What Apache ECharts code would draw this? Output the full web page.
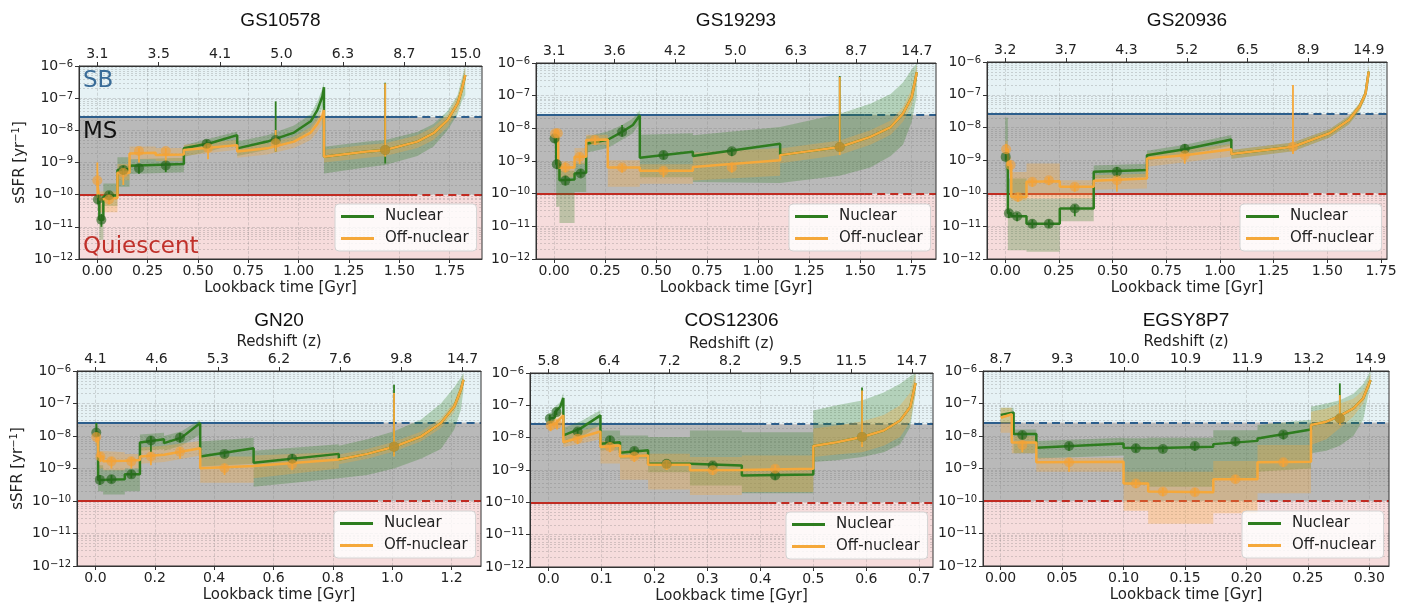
<!DOCTYPE html>
<html>
<head>
<meta charset="utf-8">
<title>sSFR histories</title>
<script src="https://cdn.jsdelivr.net/npm/echarts@6/dist/echarts.min.js"></script>
<style>
  html, body { margin: 0; padding: 0; background: #fff; }
  #chart { width: 1411px; height: 606px; }
</style>
</head>
<body>
<div id="chart"></div>
<script>
// Values. y values are log10(sSFR / yr^-1).
// Line rows: [lookback time (Gyr), median, band low, band high]
// Point rows: [lookback time (Gyr), value, error low, error high]

const titles = ['GS10578', 'GS19293', 'GS20936', 'GN20', 'COS12306', 'EGSY8P7'];

const zLabels = [
  ['3.1', '3.5', '4.1', '5.0', '6.3', '8.7', '15.0'],
  ['3.1', '3.6', '4.2', '5.0', '6.3', '8.7', '14.7'],
  ['3.2', '3.7', '4.3', '5.2', '6.5', '8.9', '14.9'],
  ['4.1', '4.6', '5.3', '6.2', '7.6', '9.8', '14.7'],
  ['5.8', '6.4', '7.2', '8.2', '9.5', '11.5', '14.7'],
  ['8.7', '9.3', '10.0', '10.9', '11.9', '13.2', '14.9']
];
// lookback time of the last redshift tick (ticks are evenly spaced)
const zTickMax = [1.83, 1.778, 1.693, 1.237, 0.686, 0.301];

const xTicks = [
  [0, 0.25, 0.5, 0.75, 1, 1.25, 1.5, 1.75],
  [0, 0.25, 0.5, 0.75, 1, 1.25, 1.5, 1.75],
  [0, 0.25, 0.5, 0.75, 1, 1.25, 1.5, 1.75],
  [0, 0.2, 0.4, 0.6, 0.8, 1.0, 1.2],
  [0, 0.1, 0.2, 0.3, 0.4, 0.5, 0.6, 0.7],
  [0, 0.05, 0.1, 0.15, 0.2, 0.25, 0.3]
];
const xDecimals = [2, 2, 2, 1, 1, 2];

const sbLevel = 2.6e-8;
const qLevel = 1e-10;
const sbSolidUntil = [1.55, 1.52, 1.375, 0.944, 0.396, 0.01];
const qSolidUntil = [1.55, 1.52, 1.375, 0.925, 0.415, 0.018];

// ---- GS10578 ----
const gs10578Nuc = [
  [0.000, -10.15, -10.5, -9.85], [0.010, -10.15, -10.5, -9.85],
  [0.010, -10.78, -11.4, -10.3], [0.030, -10.78, -11.4, -10.3],
  [0.030, -10.06, -10.35, -9.65], [0.100, -10.02, -10.35, -9.65],
  [0.100, -9.23, -9.75, -8.84], [0.160, -9.20, -9.75, -8.84],
  [0.160, -9.10, -9.36, -8.9], [0.430, -9.05, -9.3, -8.85],
  [0.430, -8.56, -8.82, -8.46], [0.560, -8.40, -8.65, -8.25], [0.695, -8.15, -8.4, -8.04],
  [0.695, -8.56, -8.8, -8.35], [0.844, -8.35, -8.6, -8.15], [0.977, -8.07, -8.35, -7.85],
  [1.060, -7.72, -8.0, -7.5], [1.093, -7.37, -7.7, -7.1], [1.118, -6.95, -7.3, -6.7],
  [1.126, -6.66, -7.1, -6.5],
  [1.126, -8.82, -9.34, -8.51], [1.340, -8.66, -9.15, -8.35], [1.430, -8.61, -9.08, -8.3],
  [1.590, -8.35, -8.8, -8.05], [1.670, -8.09, -8.5, -7.8], [1.740, -7.68, -8.0, -7.4],
  [1.790, -7.16, -7.5, -6.9], [1.810, -6.75, -7.1, -6.4], [1.828, -6.28, -6.9, -6.0]
];
const gs10578Off = [
  [0.000, -9.56, -10.0, -9.3], [0.008, -9.56, -10.0, -9.3],
  [0.008, -10.15, -10.55, -9.9], [0.100, -10.10, -10.55, -9.9],
  [0.100, -9.32, -9.55, -9.05], [0.160, -9.32, -9.55, -9.05],
  [0.160, -8.72, -8.9, -8.5], [0.290, -8.70, -8.9, -8.5],
  [0.290, -8.77, -8.95, -8.55], [0.430, -8.75, -8.95, -8.55],
  [0.430, -8.61, -8.8, -8.45], [0.695, -8.46, -8.6, -8.3],
  [0.695, -8.66, -8.85, -8.5], [0.844, -8.56, -8.75, -8.4], [0.977, -8.35, -8.55, -8.2],
  [1.060, -8.07, -8.3, -7.9], [1.093, -7.80, -8.05, -7.6], [1.118, -7.55, -7.8, -7.35],
  [1.126, -7.37, -7.6, -7.2],
  [1.126, -8.82, -9.0, -8.6], [1.340, -8.66, -8.85, -8.45], [1.430, -8.61, -8.8, -8.4],
  [1.590, -8.35, -8.55, -8.15], [1.670, -8.09, -8.3, -7.9], [1.740, -7.68, -7.9, -7.5],
  [1.790, -7.16, -7.4, -6.95], [1.810, -6.75, -7.0, -6.5], [1.828, -6.28, -6.5, -6.05]
];
const gs10578NucPts = [
  [0.003, -10.15, -10.3, -10.0], [0.020, -10.78, -11.0, -10.6], [0.058, -10.02, -10.15, -9.9],
  [0.129, -9.23, -9.4, -9.1], [0.207, -9.18, -9.35, -9.05], [0.340, -9.09, -9.3, -8.95],
  [0.543, -8.42, -8.55, -8.3], [0.886, -8.30, -8.66, -7.1], [1.430, -8.61, -9.03, -6.52]
];
const gs10578OffPts = [
  [0.000, -9.56, -10.1, -9.0], [0.058, -10.15, -10.3, -10.0], [0.129, -9.32, -9.7, -9.2],
  [0.207, -8.64, -9.0, -8.55], [0.340, -8.64, -9.0, -8.55], [0.550, -8.55, -8.9, -8.45],
  [0.886, -8.40, -8.66, -7.99], [1.430, -8.61, -8.82, -6.54]
];

// ---- GS19293 ----
const gs19293Nuc = [
  [0.000, -8.31, -8.5, -8.1], [0.010, -8.31, -8.5, -8.1],
  [0.010, -9.10, -10.4, -9.0], [0.026, -9.10, -10.4, -9.0],
  [0.026, -9.59, -10.9, -9.3], [0.100, -9.57, -10.9, -9.3],
  [0.100, -9.38, -9.95, -9.05], [0.157, -9.36, -9.95, -9.05],
  [0.157, -8.47, -8.75, -8.25], [0.263, -8.35, -8.6, -8.1], [0.333, -8.11, -8.35, -7.9],
  [0.386, -7.90, -8.15, -7.7], [0.420, -7.60, -7.85, -7.45],
  [0.420, -8.90, -9.5, -8.2], [0.680, -8.72, -9.5, -8.15],
  [0.680, -8.85, -9.64, -8.21], [1.108, -8.47, -9.67, -7.96],
  [1.108, -8.82, -9.67, -7.96], [1.400, -8.57, -9.45, -7.55], [1.550, -8.26, -9.2, -7.25],
  [1.650, -7.96, -8.85, -6.95], [1.710, -7.55, -8.5, -6.6], [1.753, -7.04, -7.8, -6.2],
  [1.778, -6.28, -7.0, -6.0]
];
const gs19293Off = [
  [0.000, -8.16, -8.4, -8.0], [0.020, -8.16, -8.4, -8.0],
  [0.020, -9.20, -9.5, -9.0], [0.100, -9.20, -9.5, -9.0],
  [0.100, -8.87, -9.1, -8.6], [0.157, -8.87, -9.1, -8.6],
  [0.157, -8.36, -8.5, -8.2], [0.263, -8.34, -8.5, -8.2],
  [0.263, -9.20, -9.79, -8.98], [0.420, -9.20, -9.79, -8.98],
  [0.420, -9.30, -9.7, -9.1], [0.680, -9.30, -9.7, -9.1],
  [0.680, -9.18, -9.6, -8.75], [1.108, -8.98, -9.45, -8.6],
  [1.108, -8.82, -9.07, -8.62], [1.400, -8.57, -8.82, -8.37], [1.550, -8.26, -8.5, -8.06],
  [1.650, -7.96, -8.2, -7.76], [1.710, -7.55, -7.8, -7.35], [1.753, -7.04, -7.3, -6.8],
  [1.778, -6.28, -6.6, -6.05]
];
const gs19293NucPts = [
  [0.002, -8.31, -8.45, -8.2], [0.013, -9.10, -9.25, -8.95], [0.055, -9.60, -9.75, -9.45],
  [0.130, -9.38, -9.5, -9.25], [0.333, -8.11, -8.25, -7.9], [0.536, -8.82, -8.95, -8.7],
  [0.871, -8.70, -8.85, -8.6], [1.400, -8.57, -8.7, -6.4]
];
const gs19293OffPts = [
  [0.005, -8.16, -8.3, -8.05], [0.018, -8.15, -8.3, -8.05], [0.055, -9.20, -9.35, -9.05],
  [0.125, -8.87, -9.1, -8.75], [0.200, -8.36, -8.5, -8.25], [0.333, -9.20, -9.35, -9.1],
  [0.536, -9.30, -9.5, -9.2], [0.871, -9.20, -9.35, -9.05], [1.400, -8.57, -8.82, -6.43]
];

// ---- GS20936 ----
const gs20936Nuc = [
  [0.000, -8.89, -9.3, -7.7], [0.012, -8.89, -9.3, -7.7],
  [0.012, -10.61, -11.73, -9.55], [0.028, -10.61, -11.73, -9.55],
  [0.028, -10.70, -11.73, -9.55], [0.099, -10.70, -11.73, -9.55],
  [0.099, -10.93, -11.78, -10.16], [0.254, -10.93, -11.78, -10.16],
  [0.254, -10.46, -10.85, -10.15], [0.412, -10.46, -10.85, -10.15],
  [0.412, -9.34, -9.55, -9.15], [0.660, -9.29, -9.5, -9.1],
  [0.660, -8.84, -9.0, -8.7], [0.836, -8.66, -8.82, -8.52], [1.053, -8.36, -8.55, -8.22],
  [1.053, -8.80, -8.95, -8.68], [1.340, -8.58, -8.72, -8.45], [1.510, -8.17, -8.3, -8.05],
  [1.600, -7.77, -7.9, -7.65], [1.650, -7.36, -7.5, -7.25], [1.678, -6.96, -7.1, -6.85],
  [1.693, -6.29, -6.5, -6.1]
];
const gs20936Off = [
  [0.000, -8.66, -9.0, -8.4], [0.012, -8.66, -9.0, -8.4],
  [0.012, -9.14, -9.4, -8.9], [0.028, -9.14, -9.4, -8.9],
  [0.028, -10.11, -10.21, -9.35], [0.099, -10.11, -10.21, -9.35],
  [0.099, -9.65, -10.16, -9.09], [0.254, -9.63, -10.16, -9.09],
  [0.254, -9.80, -10.16, -9.6], [0.412, -9.80, -10.16, -9.6],
  [0.412, -9.62, -9.89, -9.45], [0.660, -9.55, -9.85, -9.4],
  [0.660, -8.94, -9.19, -8.78], [0.836, -8.84, -9.05, -8.68], [1.053, -8.66, -8.88, -8.5],
  [1.053, -8.80, -8.95, -8.68], [1.340, -8.58, -8.72, -8.45], [1.510, -8.17, -8.3, -8.05],
  [1.600, -7.77, -7.9, -7.65], [1.650, -7.36, -7.5, -7.25], [1.678, -6.96, -7.1, -6.85],
  [1.693, -6.29, -6.5, -6.1]
];
const gs20936NucPts = [
  [0.002, -8.89, -9.0, -8.75], [0.017, -10.61, -10.75, -10.5], [0.055, -10.70, -10.85, -10.6],
  [0.126, -10.93, -11.05, -10.8], [0.203, -10.93, -11.05, -10.8], [0.324, -10.46, -10.7, -10.35],
  [0.520, -9.34, -9.5, -9.2], [0.836, -8.64, -8.8, -8.5]
];
const gs20936OffPts = [
  [0.004, -8.66, -8.8, -8.5], [0.025, -9.14, -9.3, -9.0], [0.059, -10.11, -10.25, -10.0],
  [0.126, -9.65, -9.8, -9.55], [0.203, -9.60, -9.75, -9.5], [0.324, -9.80, -9.95, -9.7],
  [0.520, -9.60, -9.95, -9.5], [0.836, -8.84, -9.1, -8.75], [1.340, -8.58, -8.8, -6.7]
];

// ---- GN20 ----
const gn20Nuc = [
  [0.000, -7.89, -8.16, -7.6], [0.009, -7.89, -8.16, -7.6],
  [0.009, -9.35, -9.7, -8.9], [0.026, -9.35, -9.7, -8.9],
  [0.026, -9.35, -9.8, -9.04], [0.099, -9.33, -9.8, -9.04],
  [0.099, -9.18, -9.7, -9.0], [0.150, -9.18, -9.7, -9.0],
  [0.150, -8.20, -8.45, -7.95], [0.231, -8.10, -8.4, -7.9],
  [0.231, -8.22, -8.45, -8.0], [0.290, -8.05, -8.3, -7.85], [0.353, -7.60, -7.95, -7.5],
  [0.353, -8.63, -8.94, -8.17], [0.533, -8.38, -8.85, -8.05],
  [0.533, -8.82, -9.56, -8.45], [0.820, -8.55, -9.3, -8.25],
  [0.820, -8.72, -9.3, -8.3], [0.916, -8.55, -9.2, -8.1], [1.006, -8.33, -9.0, -7.85],
  [1.096, -8.02, -8.7, -7.5], [1.164, -7.60, -8.4, -7.0], [1.209, -7.09, -7.8, -6.5],
  [1.231, -6.58, -7.2, -6.2], [1.240, -6.27, -6.6, -6.05]
];
const gn20Off = [
  [0.000, -8.03, -8.3, -7.8], [0.009, -8.03, -8.3, -7.8],
  [0.009, -8.63, -9.0, -8.46], [0.026, -8.63, -9.0, -8.46],
  [0.026, -8.78, -9.05, -8.46], [0.099, -8.76, -9.05, -8.5],
  [0.099, -8.74, -9.0, -8.55], [0.150, -8.74, -9.0, -8.55],
  [0.150, -8.63, -8.85, -8.35], [0.231, -8.58, -8.8, -8.3], [0.353, -8.38, -8.6, -8.15],
  [0.353, -8.99, -9.44, -8.63], [0.533, -8.92, -9.44, -8.63],
  [0.533, -8.89, -9.3, -8.6], [0.820, -8.72, -9.0, -8.5],
  [0.820, -8.72, -8.87, -8.57], [0.916, -8.55, -8.7, -8.4], [1.006, -8.33, -8.48, -8.18],
  [1.096, -8.02, -8.17, -7.87], [1.164, -7.60, -7.75, -7.45], [1.209, -7.09, -7.25, -6.95],
  [1.231, -6.58, -6.8, -6.4], [1.240, -6.27, -6.5, -6.1]
];
const gn20NucPts = [
  [0.003, -7.89, -8.0, -7.6], [0.015, -9.35, -9.5, -9.2], [0.054, -9.33, -9.45, -9.2],
  [0.121, -9.18, -9.3, -9.05], [0.187, -8.14, -8.5, -8.0], [0.285, -8.05, -8.2, -7.9],
  [0.435, -8.55, -8.65, -8.45], [0.663, -8.70, -8.8, -8.55], [1.006, -8.33, -8.6, -6.42]
];
const gn20OffPts = [
  [0.003, -8.03, -8.2, -7.9], [0.017, -8.63, -8.8, -8.5], [0.054, -8.78, -9.0, -8.65],
  [0.121, -8.78, -9.0, -8.65], [0.187, -8.63, -8.9, -8.5], [0.285, -8.48, -8.7, -8.35],
  [0.435, -8.99, -9.2, -8.85], [0.663, -8.87, -9.05, -8.75], [1.006, -8.33, -8.63, -6.68]
];

// ---- COS12306 ----
const cos12306Nuc = [
  [0.000, -7.41, -7.6, -7.25], [0.012, -7.38, -7.58, -7.22],
  [0.012, -7.21, -7.4, -7.05], [0.022, -7.05, -7.25, -6.9], [0.028, -6.77, -7.0, -6.6],
  [0.028, -7.93, -8.2, -7.7], [0.060, -7.72, -8.0, -7.5], [0.098, -7.31, -7.6, -7.15],
  [0.098, -8.19, -8.39, -7.78], [0.135, -8.14, -8.39, -7.78],
  [0.135, -8.47, -8.65, -7.93], [0.188, -8.39, -8.65, -7.93],
  [0.188, -8.81, -9.07, -7.98], [0.267, -8.81, -9.07, -7.98],
  [0.267, -8.86, -9.48, -7.78], [0.365, -8.86, -9.48, -7.78],
  [0.365, -9.17, -9.72, -7.83], [0.500, -9.14, -9.72, -7.83],
  [0.500, -8.26, -8.75, -7.16], [0.544, -8.14, -8.7, -7.0], [0.592, -7.98, -8.6, -6.85],
  [0.633, -7.78, -8.45, -6.6], [0.664, -7.47, -8.2, -6.33], [0.683, -7.05, -7.67, -6.1],
  [0.693, -6.31, -6.64, -6.0]
];
const cos12306Off = [
  [0.000, -7.62, -7.8, -7.45], [0.012, -7.58, -7.75, -7.4],
  [0.012, -7.55, -7.7, -7.4], [0.028, -7.31, -7.5, -7.15],
  [0.028, -8.14, -8.3, -7.9], [0.098, -7.81, -8.05, -7.65],
  [0.098, -8.29, -8.8, -8.1], [0.135, -8.24, -8.8, -8.1],
  [0.135, -8.58, -9.3, -8.4], [0.188, -8.55, -9.3, -8.4],
  [0.188, -8.84, -9.6, -8.5], [0.267, -8.84, -9.6, -8.5],
  [0.267, -9.01, -9.77, -8.6], [0.365, -9.00, -9.77, -8.6],
  [0.365, -8.98, -9.68, -8.55], [0.500, -8.96, -9.68, -8.55],
  [0.500, -8.26, -8.6, -7.72], [0.544, -8.14, -8.52, -7.62], [0.592, -7.98, -8.45, -7.5],
  [0.633, -7.78, -8.25, -7.3], [0.664, -7.47, -7.98, -7.0], [0.683, -7.05, -7.5, -6.6],
  [0.693, -6.31, -6.64, -6.0]
];
const cos12306NucPts = [
  [0.0025, -7.41, -7.5, -7.3], [0.015, -7.21, -7.3, -7.1], [0.055, -7.81, -7.95, -7.7],
  [0.116, -8.08, -8.2, -7.95], [0.162, -8.41, -8.55, -8.3], [0.223, -8.81, -8.95, -8.7],
  [0.310, -8.86, -9.0, -8.75], [0.428, -9.17, -9.3, -9.05], [0.592, -7.98, -8.2, -6.45]
];
const cos12306OffPts = [
  [0.004, -7.62, -7.8, -7.5], [0.016, -7.57, -7.75, -7.45], [0.055, -8.03, -8.2, -7.9],
  [0.116, -8.29, -8.45, -8.15], [0.162, -8.58, -8.75, -8.45], [0.223, -8.84, -9.0, -8.7],
  [0.310, -9.01, -9.15, -8.9], [0.428, -8.96, -9.1, -8.85], [0.592, -7.98, -8.29, -6.54]
];

// ---- EGSY8P7 ----
const egsy8p7Nuc = [
  [0.000, -7.35, -7.6, -7.13], [0.0105, -7.28, -7.6, -7.13],
  [0.0105, -7.94, -8.53, -7.8], [0.029, -7.94, -8.53, -7.8],
  [0.029, -8.36, -8.69, -8.15], [0.100, -8.23, -8.6, -8.05],
  [0.100, -8.36, -9.5, -8.07], [0.120, -8.38, -9.5, -8.07],
  [0.120, -8.40, -9.56, -8.05], [0.173, -8.33, -9.56, -8.05],
  [0.173, -8.25, -9.3, -7.82], [0.209, -8.15, -9.3, -7.82],
  [0.209, -8.08, -9.1, -7.66], [0.2525, -7.80, -9.0, -7.5],
  [0.2525, -7.66, -8.53, -7.1], [0.265, -7.56, -8.45, -7.0], [0.276, -7.38, -8.3, -6.9],
  [0.287, -7.15, -8.0, -6.7], [0.295, -6.84, -7.5, -6.4], [0.301, -6.28, -6.4, -6.0]
];
const egsy8p7Off = [
  [0.000, -7.44, -7.9, -7.13], [0.009, -7.33, -7.9, -7.13],
  [0.009, -8.20, -8.53, -8.0], [0.029, -8.20, -8.53, -8.0],
  [0.029, -8.81, -9.1, -8.67], [0.100, -8.79, -9.1, -8.67],
  [0.100, -9.46, -10.3, -9.1], [0.120, -9.46, -10.3, -9.1],
  [0.120, -9.71, -10.7, -9.1], [0.173, -9.73, -10.7, -9.1],
  [0.173, -9.33, -10.38, -8.77], [0.209, -9.33, -10.38, -8.77],
  [0.209, -8.81, -9.76, -8.28], [0.2525, -8.79, -9.76, -8.28],
  [0.2525, -7.66, -8.28, -7.25], [0.265, -7.56, -8.1, -7.15], [0.276, -7.38, -7.75, -7.0],
  [0.287, -7.15, -7.4, -6.85], [0.295, -6.84, -7.0, -6.6], [0.301, -6.28, -6.4, -6.1]
];
const egsy8p7NucPts = [
  [0.0176, -7.97, -8.1, -7.85], [0.0556, -8.31, -8.45, -8.2], [0.110, -8.38, -8.5, -8.25],
  [0.132, -8.40, -8.5, -8.3], [0.158, -8.31, -8.45, -8.2], [0.191, -8.17, -8.3, -8.05],
  [0.230, -7.95, -8.1, -7.85], [0.276, -7.46, -7.6, -6.38]
];
const egsy8p7OffPts = [
  [0.0176, -8.28, -8.5, -8.15], [0.0556, -8.81, -9.1, -8.7], [0.110, -9.46, -9.6, -9.35],
  [0.132, -9.71, -9.85, -9.6], [0.158, -9.73, -9.85, -9.6], [0.191, -9.33, -9.45, -9.2],
  [0.230, -8.81, -8.95, -8.7], [0.276, -7.46, -7.66, -6.74]
];

const nucLines = [gs10578Nuc, gs19293Nuc, gs20936Nuc, gn20Nuc, cos12306Nuc, egsy8p7Nuc];
const offLines = [gs10578Off, gs19293Off, gs20936Off, gn20Off, cos12306Off, egsy8p7Off];
const nucPoints = [gs10578NucPts, gs19293NucPts, gs20936NucPts, gn20NucPts, cos12306NucPts, egsy8p7NucPts];
const offPoints = [gs10578OffPts, gs19293OffPts, gs20936OffPts, gn20OffPts, cos12306OffPts, egsy8p7OffPts];

// panel boxes in pixels and axis ranges
const panels = [
  { left: 79, top: 66, width: 403, height: 193, xMin: -0.091, xMax: 1.911 },
  { left: 536, top: 63, width: 400, height: 196, xMin: -0.089, xMax: 1.872 },
  { left: 987, top: 62, width: 400, height: 197, xMin: -0.085, xMax: 1.778 },
  { left: 77, top: 371, width: 404, height: 195, xMin: -0.062, xMax: 1.299 },
  { left: 530, top: 373, width: 403, height: 194, xMin: -0.035, xMax: 0.726 },
  { left: 983, top: 371, width: 406, height: 195, xMin: -0.0144, xMax: 0.316 }
];

const GREEN = '#2e7d1f';
const ORANGE = '#f5a83a';
const FONT = 'DejaVu Sans';

const p10 = v => Math.pow(10, v);

function bandRenderer(rows) {
  return function (params, api) {
    if (params.dataIndex !== 0) return null;
    const up = [], dn = [];
    rows.forEach(r => {
      up.push(api.coord([r[0], p10(r[3])]));
      dn.push(api.coord([r[0], p10(r[2])]));
    });
    return {
      type: 'polygon',
      shape: { points: up.concat(dn.reverse()) },
      style: { fill: params.seriesName === 'band-nuc' ? 'rgba(46,125,31,0.28)' : 'rgba(245,168,58,0.32)' }
    };
  };
}

function errRenderer(color) {
  return function (params, api) {
    const a = api.coord([api.value(0), api.value(2)]);
    const b = api.coord([api.value(0), api.value(3)]);
    return {
      type: 'line',
      shape: { x1: a[0], y1: a[1], x2: b[0], y2: b[1] },
      style: { stroke: color, lineWidth: 1.8 }
    };
  };
}

const chart = echarts.init(document.getElementById('chart'));
const option = {
  animation: false,
  backgroundColor: '#ffffff',
  grid: [], xAxis: [], yAxis: [], series: [], legend: [], graphic: []
};

const majorLevels = [1e-11, 1e-10, 1e-9, 1e-8, 1e-7];
const minorLevels = [];
for (let e = -12; e < -6; e++) {
  for (let k = 2; k <= 9; k++) minorLevels.push(k * p10(e));
}

panels.forEach((P, i) => {
  option.grid.push({
    left: P.left, top: P.top, width: P.width, height: P.height,
    show: true, z: 10, borderColor: '#333', borderWidth: 1, backgroundColor: 'transparent'
  });

  const zPos = zLabels[i].map((_, k) => k * zTickMax[i] / 6);
  option.xAxis.push({
    type: 'value', gridIndex: i, position: 'bottom', min: P.xMin, max: P.xMax, z: 11,
    axisLine: { show: true, onZero: false, lineStyle: { color: '#333' } },
    axisTick: { show: true, length: 4, customValues: xTicks[i], lineStyle: { color: '#333' } },
    axisLabel: {
      customValues: xTicks[i], formatter: v => v.toFixed(xDecimals[i]),
      fontSize: 14, fontFamily: FONT, color: '#222', margin: 5
    },
    splitLine: { show: false },
    name: 'Lookback time [Gyr]', nameLocation: 'middle', nameGap: 22,
    nameTextStyle: { fontSize: 15, fontFamily: FONT, color: '#222' }
  });
  option.xAxis.push({
    type: 'value', gridIndex: i, position: 'top', min: P.xMin, max: P.xMax, z: 11,
    axisLine: { show: true, onZero: false, lineStyle: { color: '#333' } },
    axisTick: { show: true, length: 4, customValues: zPos, lineStyle: { color: '#333' } },
    axisLabel: {
      customValues: zPos,
      formatter: v => zLabels[i][Math.round(v * 6 / zTickMax[i])],
      fontSize: 14, fontFamily: FONT, color: '#222', margin: 5
    },
    splitLine: { show: false },
    name: i >= 3 ? 'Redshift (z)' : '', nameLocation: 'middle', nameGap: 21,
    nameTextStyle: { fontSize: 15, fontFamily: FONT, color: '#222' }
  });
  option.yAxis.push({
    type: 'log', logBase: 10, gridIndex: i, min: 1e-12, max: 1e-6, z: 11,
    axisLine: { show: true, onZero: false, lineStyle: { color: '#333' } },
    axisTick: { show: true, length: 4, lineStyle: { color: '#333' } },
    axisLabel: {
      margin: 6,
      formatter: v => '{b|10}{s|\u2212' + Math.abs(Math.round(Math.log10(v))) + '}',
      rich: {
        b: { fontSize: 14, fontFamily: FONT, color: '#222', lineHeight: 14, verticalAlign: 'bottom' },
        s: { fontSize: 10, fontFamily: FONT, color: '#222', lineHeight: 10, verticalAlign: 'top', padding: [0, 0, 8, 0] }
      }
    },
    splitLine: { show: false },
    name: i % 3 === 0 ? 'sSFR [yr{s|\u22121}]' : '',
    nameLocation: 'middle', nameGap: 50,
    nameTextStyle: {
      fontSize: 15, fontFamily: FONT, color: '#222',
      rich: { s: { fontSize: 10, fontFamily: FONT, color: '#222', verticalAlign: 'top', padding: [0, 0, 8, 0] } }
    }
  });

  // grid lines as explicit segments spanning the panel
  const vStyle = { color: 'rgba(120,120,120,0.32)', type: 'dashed', width: 0.8 };
  const hStyle = { color: 'rgba(120,120,120,0.35)', type: 'dashed', width: 0.8 };
  const mStyle = { color: 'rgba(110,110,110,0.32)', type: [2, 2], width: 0.8 };
  const gridLines = [];
  xTicks[i].forEach(v => gridLines.push([{ coord: [v, 1e-12], lineStyle: vStyle }, { coord: [v, 1e-6] }]));
  majorLevels.forEach(v => gridLines.push([{ coord: [P.xMin, v], lineStyle: hStyle }, { coord: [P.xMax, v] }]));
  minorLevels.forEach(v => gridLines.push([{ coord: [P.xMin, v], lineStyle: mStyle }, { coord: [P.xMax, v] }]));

  // background regions and grid
  option.series.push({
    type: 'line', name: 'bg', xAxisIndex: 2 * i, yAxisIndex: i, silent: true,
    data: [[P.xMin, 1e-9]], symbol: 'none', lineStyle: { opacity: 0 },
    markArea: {
      silent: true, z: 1,
      data: [
        [{ yAxis: sbLevel, itemStyle: { color: '#e6f2f5' } }, { yAxis: 1e-6 }],
        [{ yAxis: qLevel, itemStyle: { color: '#b9b9b9' } }, { yAxis: sbLevel }],
        [{ yAxis: 1e-12, itemStyle: { color: '#f6dcdc' } }, { yAxis: qLevel }]
      ]
    },
    markLine: { silent: true, z: 2, symbol: ['none', 'none'], label: { show: false }, data: gridLines }
  });

  // SB / quiescent thresholds (solid, then dashed)
  const blue = { color: '#2c5e8c', width: 2 };
  const red = { color: '#c02b22', width: 2 };
  option.series.push({
    type: 'line', name: 'thr', xAxisIndex: 2 * i, yAxisIndex: i, silent: true,
    data: [[P.xMin, 1e-9]], symbol: 'none', lineStyle: { opacity: 0 },
    markLine: {
      silent: true, z: 3, symbol: ['none', 'none'], label: { show: false },
      data: [
        [{ coord: [P.xMin, sbLevel], lineStyle: Object.assign({ type: 'solid' }, blue) }, { coord: [sbSolidUntil[i], sbLevel] }],
        [{ coord: [sbSolidUntil[i], sbLevel], lineStyle: Object.assign({ type: [8, 5] }, blue) }, { coord: [P.xMax, sbLevel] }],
        [{ coord: [P.xMin, qLevel], lineStyle: Object.assign({ type: 'solid' }, red) }, { coord: [qSolidUntil[i], qLevel] }],
        [{ coord: [qSolidUntil[i], qLevel], lineStyle: Object.assign({ type: [8, 5] }, red) }, { coord: [P.xMax, qLevel] }]
      ]
    }
  });

  // uncertainty bands
  [['band-nuc', nucLines[i]], ['band-off', offLines[i]]].forEach(([nm, rows]) => {
    option.series.push({
      type: 'custom', name: nm, xAxisIndex: 2 * i, yAxisIndex: i, z: 4, silent: true, clip: true,
      data: rows.map(r => [r[0], p10(r[2]), p10(r[3])]),
      encode: { x: 0, y: 1 },
      renderItem: bandRenderer(rows)
    });
  });

  // median lines
  [['Nuclear', nucLines[i], GREEN], ['Off-nuclear', offLines[i], ORANGE]].forEach(([nm, rows, col]) => {
    option.series.push({
      type: 'line', name: nm, xAxisIndex: 2 * i, yAxisIndex: i, z: 5, silent: true,
      color: col, symbol: 'none', showSymbol: false,
      lineStyle: { color: col, width: 2.5 },
      data: rows.map(r => [r[0], p10(r[1])])
    });
  });

  // points with error bars
  [['err-nuc', nucPoints[i], GREEN], ['err-off', offPoints[i], ORANGE]].forEach(([nm, rows, col]) => {
    option.series.push({
      type: 'custom', name: nm, xAxisIndex: 2 * i, yAxisIndex: i, z: 6, silent: true,
      data: rows.map(r => [r[0], p10(r[1]), p10(r[2]), p10(r[3])]),
      encode: { x: 0, y: 1 },
      renderItem: errRenderer(col)
    });
  });
  [['pt-nuc', nucPoints[i], 'rgba(38,100,28,0.8)'], ['pt-off', offPoints[i], 'rgba(242,160,55,0.75)']].forEach(([nm, rows, col]) => {
    option.series.push({
      type: 'scatter', name: nm, xAxisIndex: 2 * i, yAxisIndex: i, z: 7, silent: true,
      symbol: 'circle', symbolSize: 10, itemStyle: { color: col },
      data: rows.map(r => [r[0], p10(r[1])])
    });
  });

  option.legend.push({
    orient: 'vertical', left: P.left + P.width - 147, top: P.top + P.height - 55,
    data: ['Nuclear', 'Off-nuclear'], icon: 'rect', itemWidth: 33, itemHeight: 3, itemGap: 5,
    padding: [4, 8, 4, 6], backgroundColor: 'rgba(255,255,255,0.82)',
    borderColor: '#d4d4d4', borderWidth: 1, borderRadius: 4, selectedMode: false, z: 20,
    textStyle: { fontSize: 15, fontFamily: FONT, color: '#222', lineHeight: 17, padding: [0, 0, 0, 6] }
  });

  option.graphic.push({
    type: 'text', x: P.left + P.width / 2, y: i < 3 ? 21 : 321, z: 30, silent: true,
    style: {
      text: titles[i], font: '19px "Liberation Sans"', fill: '#111',
      textAlign: 'center', textVerticalAlign: 'middle', align: 'center', verticalAlign: 'middle'
    }
  });
});

// region labels on the first panel
[['SB', '#3a6c98', 81], ['MS', '#111111', 132], ['Quiescent', '#c0302a', 247]].forEach(([txt, col, y]) => {
  option.graphic.push({
    type: 'text', x: 83, y: y, z: 30, silent: true,
    style: {
      text: txt, font: '23px "DejaVu Sans"', fill: col,
      textAlign: 'left', textVerticalAlign: 'middle', align: 'left', verticalAlign: 'middle'
    }
  });
});

chart.setOption(option);
</script>
</body>
</html>
